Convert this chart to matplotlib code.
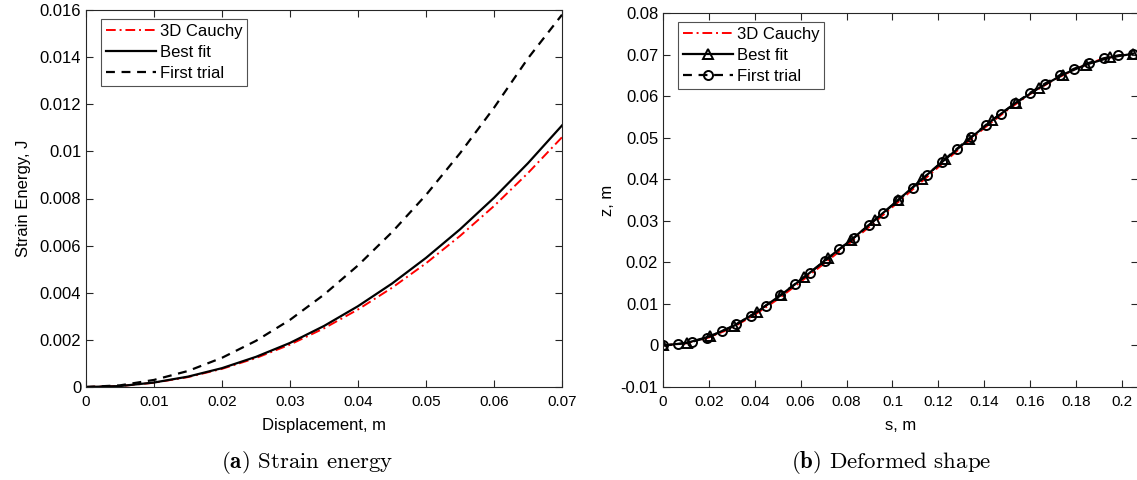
import matplotlib
matplotlib.use("Agg")
import matplotlib.pyplot as plt
from matplotlib.ticker import FuncFormatter

plt.rcParams['font.family'] = ['Liberation Sans', 'DejaVu Sans']
plt.rcParams['mathtext.fontset'] = 'cm'

# (a) strain energy vs displacement
disp = [0, 0.005, 0.01, 0.015, 0.02, 0.025, 0.03, 0.035, 0.04, 0.045,
        0.05, 0.055, 0.06, 0.065, 0.07]
energy_cauchy = [0, 0.00004, 0.00018, 0.00042, 0.00077, 0.00123, 0.0018, 0.00249,
                 0.00329, 0.00421, 0.00525, 0.00641, 0.00768, 0.00908, 0.0106]
energy_best = [0, 0.00004, 0.00019, 0.00044, 0.0008, 0.00128, 0.00187, 0.00259,
               0.00343, 0.00439, 0.00548, 0.00669, 0.00803, 0.0095, 0.0111]
energy_trial = [0, 0.00007, 0.0003, 0.00068, 0.00124, 0.00196, 0.00285, 0.00392,
                0.00516, 0.00657, 0.00815, 0.00992, 0.01185, 0.01395, 0.0158]

# (b) deformed shape
s_cauchy = [0, 0.01, 0.02, 0.03, 0.04, 0.05, 0.06, 0.07, 0.08, 0.09, 0.10,
            0.11, 0.12, 0.13, 0.14, 0.15, 0.16, 0.17, 0.18, 0.19, 0.20, 0.205]
z_cauchy = [0, 0.0005, 0.0019, 0.0042, 0.0074, 0.0111, 0.0153, 0.0196, 0.0240,
            0.0286, 0.0333, 0.0381, 0.0429, 0.0477, 0.0523, 0.0566, 0.0605,
            0.0638, 0.0666, 0.0687, 0.0699, 0.0701]

s_best = [0, 0.0103, 0.0205, 0.0308, 0.041, 0.0513, 0.0615, 0.0718, 0.082, 0.0923,
          0.1025, 0.1128, 0.123, 0.1333, 0.1435, 0.1538, 0.164, 0.1743, 0.1845,
          0.1948, 0.205]
z_best = [0, 0.0006, 0.0022, 0.0047, 0.0081, 0.0121, 0.0164, 0.0210, 0.0254, 0.0302,
          0.0350, 0.0400, 0.0448, 0.0496, 0.0542, 0.0584, 0.0620, 0.0652, 0.0676,
          0.0693, 0.0702]

s_trial = [0, 0.0064, 0.0128, 0.0192, 0.0256, 0.032, 0.0384, 0.0448, 0.0512, 0.0576,
           0.064, 0.0704, 0.0768, 0.0832, 0.0896, 0.096, 0.1024, 0.1088, 0.1152,
           0.1216, 0.128, 0.1344, 0.1408, 0.1472, 0.1536, 0.16, 0.1664, 0.1728,
           0.1792, 0.1856, 0.192, 0.1984, 0.2048]
z_trial = [0, 0.0003, 0.0009, 0.0019, 0.0034, 0.0051, 0.0072, 0.0096, 0.0121, 0.0148,
           0.0175, 0.0203, 0.0231, 0.0259, 0.0289, 0.0319, 0.0349, 0.0380, 0.0411,
           0.0442, 0.0473, 0.0502, 0.0531, 0.0558, 0.0583, 0.0608, 0.0630, 0.0650,
           0.0666, 0.0680, 0.0691, 0.0698, 0.0702]

xt_a = [0, 0.01, 0.02, 0.03, 0.04, 0.05, 0.06, 0.07]
yt_a = [0, 0.002, 0.004, 0.006, 0.008, 0.01, 0.012, 0.014, 0.016]
xt_b = [0, 0.02, 0.04, 0.06, 0.08, 0.1, 0.12, 0.14, 0.16, 0.18, 0.2]
yt_b = [-0.01, 0, 0.01, 0.02, 0.03, 0.04, 0.05, 0.06, 0.07, 0.08]

dashdot = (0, (5, 2, 1, 2))
fmt = FuncFormatter(lambda v, p: '%g' % round(v, 6))


def style_axes(ax):
    ax.tick_params(direction='in', top=True, right=True, length=5, width=0.8,
                   colors='0.15', labelcolor='black')
    ax.tick_params(axis='y', labelsize=12)
    ax.tick_params(axis='x', labelsize=11, pad=6)
    for sp in ax.spines.values():
        sp.set_color('0.15')
        sp.set_linewidth(0.8)
    ax.xaxis.set_major_formatter(fmt)
    ax.yaxis.set_major_formatter(fmt)


def add_legend(ax):
    leg = ax.legend(loc='upper left', bbox_to_anchor=(0.025, 0.985), fontsize=12,
                    frameon=True, fancybox=False, handlelength=3.0, handletextpad=0.2,
                    borderpad=0.3, labelspacing=0.35, borderaxespad=0.2)
    leg.get_frame().set_edgecolor('0.15')
    leg.get_frame().set_linewidth(0.8)


fig = plt.figure(figsize=(11.37, 4.8), dpi=100)

ax1 = fig.add_axes([86 / 1137, 93 / 480, 476 / 1137, 377 / 480])
ax1.plot(disp, energy_cauchy, color='red', linestyle=dashdot, lw=1.4, label='3D Cauchy')
ax1.plot(disp, energy_best, color='black', linestyle='-', lw=1.6, label='Best fit')
ax1.plot(disp, energy_trial, color='black', linestyle=(0, (4, 3)), lw=1.6, label='First trial')
ax1.set_xlim(0, 0.07)
ax1.set_ylim(0, 0.016)
ax1.set_xticks(xt_a)
ax1.set_yticks(yt_a)
style_axes(ax1)
ax1.set_xlabel('Displacement, m', fontsize=12, labelpad=6)
ax1.set_ylabel('Strain Energy, J', fontsize=12, labelpad=6)
add_legend(ax1)

ax2 = fig.add_axes([663 / 1137, 93 / 480, 475 / 1137, 374 / 480])
ax2.plot(s_cauchy, z_cauchy, color='red', linestyle=dashdot, lw=1.4, label='3D Cauchy')
ax2.plot(s_best, z_best, color='black', linestyle='-', lw=1.6, marker='^', ms=6.5,
         mfc='none', mew=1.4, label='Best fit')
ax2.plot(s_trial, z_trial, color='black', linestyle=(0, (4, 3)), lw=1.6, marker='o',
         ms=6.5, mfc='none', mew=1.4, label='First trial')
ax2.set_xlim(0, 0.207)
ax2.set_ylim(-0.01, 0.08)
ax2.set_xticks(xt_b)
ax2.set_yticks(yt_b)
style_axes(ax2)
ax2.set_xlabel('s, m', fontsize=12, labelpad=6)
ax2.set_ylabel('z, m', fontsize=12, labelpad=4)
add_legend(ax2)

fig.text(307 / 1137, 17 / 480, r'$\mathbf{(a)}$ Strain energy', family='cmr10',
         fontsize=16.5, ha='center', va='center')
fig.text(891 / 1137, 17 / 480, r'$\mathbf{(b)}$ Deformed shape', family='cmr10',
         fontsize=16.5, ha='center', va='center')

fig.savefig('out.png', dpi=100)
